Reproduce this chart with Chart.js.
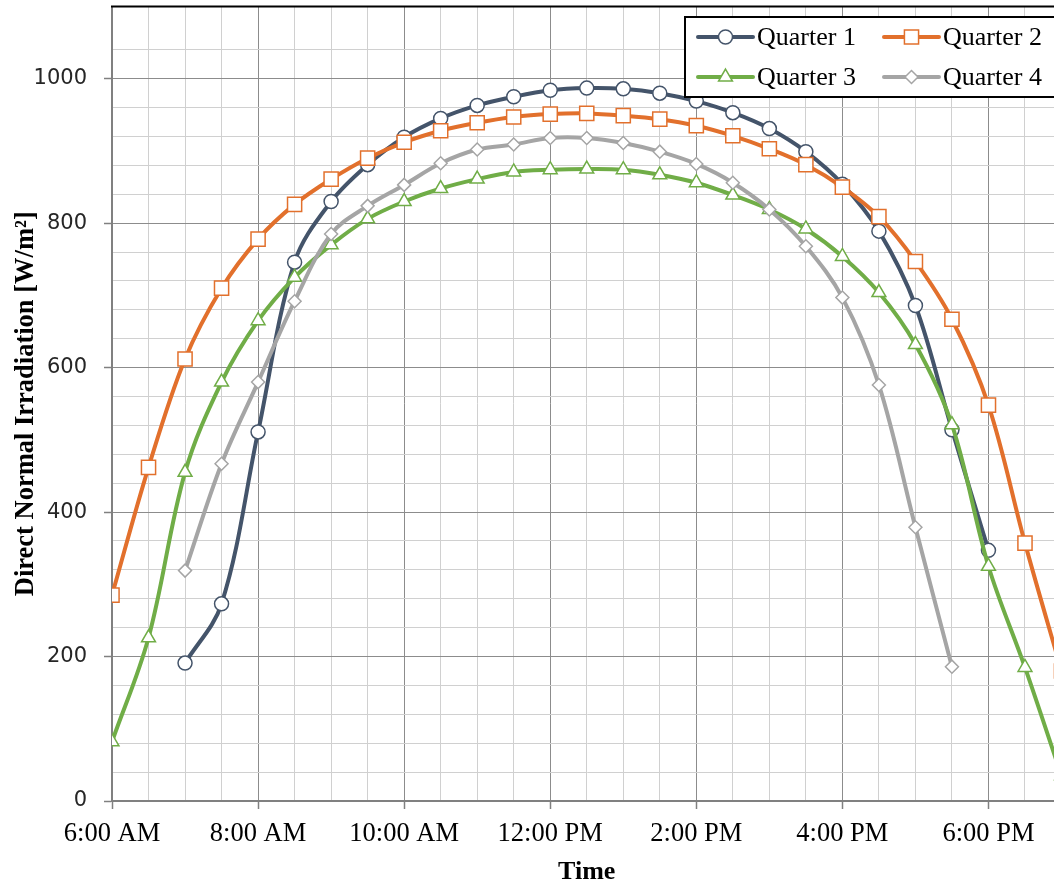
<!DOCTYPE html>
<html>
<head>
<meta charset="utf-8">
<script src="https://cdn.jsdelivr.net/npm/chart.js@4"></script>
<style>
  html, body { margin: 0; padding: 0; background: #fff; overflow: hidden; }
  #wrap { width: 1073px; height: 893px; margin-top: -5px; }
</style>
</head>
<body>
<div id="wrap"><canvas id="chart"></canvas></div>
<script>
// half-hour steps, in hours of the day
const times = [6, 6.5, 7, 7.5, 8, 8.5, 9, 9.5, 10, 10.5, 11, 11.5, 12, 12.5,
               13, 13.5, 14, 14.5, 15, 15.5, 16, 16.5, 17, 17.5, 18, 18.5, 19];

const quarter1 = [null, null, 191, 273, 511, 746, 830, 881, 919, 945, 963, 975, 984, 987,
                  986, 980, 969, 953, 931, 899, 854, 789, 686, 514, 347, null, null];
const quarter2 = [285, 462, 612, 710, 778, 826, 861, 890, 912, 928, 939, 947, 951, 952,
                  949, 944, 935, 921, 903, 881, 850, 809, 747, 667, 548, 357, 180];
const quarter3 = [82, 226, 455, 580, 665, 725, 770, 806, 830, 848, 861, 871, 874, 875,
                  874, 867, 856, 839, 819, 792, 754, 704, 632, 521, 325, 185, 35];
const quarter4 = [null, null, 319, 467, 580, 692, 785, 824, 853, 883, 902, 909, 918, 918,
                  911, 899, 882, 856, 819, 768, 697, 576, 379, 186, null, null, null];

const seriesLabels = ["Quarter 1", "Quarter 2", "Quarter 3", "Quarter 4"];
const seriesColors = ["#44546A", "#E2702C", "#70AD47", "#A5A5A5"];
const markerStyles = ["circle", "rect", "triangle", "rectRot"];
const markerSizes = [7, 10, 8, 6.5];

const yTitle = "Direct Normal Irradiation [W/m\u00B2]";
const xTitle = "Time";

function toPoints(values) {
    return times.map((t, i) => ({ x: t, y: values[i] })).filter(p => p.y !== null);
}

function timeLabel(h) {
    const hour = Math.floor(h);
    const suffix = hour < 12 ? "AM" : "PM";
    let shown = hour % 12;
    if (shown === 0) shown = 12;
    return shown + ":00 " + suffix;
}

const allSeries = [quarter1, quarter2, quarter3, quarter4];

const datasets = allSeries.map((values, i) => ({
    label: seriesLabels[i],
    data: toPoints(values),
    borderColor: seriesColors[i],
    borderWidth: 4,
    tension: 0.35,
    pointStyle: markerStyles[i],
    pointRadius: markerSizes[i],
    pointHoverRadius: markerSizes[i],
    pointBackgroundColor: "#ffffff",
    pointBorderColor: seriesColors[i],
    pointBorderWidth: 1.5,
    order: 4 - i
}));

// top frame line + boxed legend with line samples
// (canvas is shifted up 5px, so page y = canvas y - 5)
const framePlugin = {
    id: "frame",
    afterDraw(chart) {
        const ctx = chart.ctx;
        const area = chart.chartArea;
        ctx.save();
        ctx.strokeStyle = "#000";
        ctx.lineWidth = 2;
        ctx.beginPath();
        ctx.moveTo(area.left - 1, area.top);
        ctx.lineTo(area.right, area.top);
        ctx.stroke();

        const box = { x: 685, y: 22, w: 380, h: 80 };
        ctx.fillStyle = "#fff";
        ctx.fillRect(box.x, box.y, box.w, box.h);
        ctx.lineWidth = 2;
        ctx.strokeRect(box.x, box.y, box.w, box.h);

        ctx.font = "26px 'Liberation Serif', 'Times New Roman', serif";
        ctx.textBaseline = "middle";
        const cols = [698, 884];
        const rows = [42, 82];
        seriesLabels.forEach((label, i) => {
            const x0 = cols[i % 2];
            const y0 = rows[Math.floor(i / 2)];
            ctx.strokeStyle = seriesColors[i];
            ctx.lineWidth = 4;
            ctx.lineCap = "round";
            ctx.beginPath();
            ctx.moveTo(x0, y0);
            ctx.lineTo(x0 + 55, y0);
            ctx.stroke();
            ctx.fillStyle = "#fff";
            ctx.lineWidth = 1.5;
            ctx.lineCap = "butt";
            Chart.helpers.drawPoint(ctx, {
                pointStyle: markerStyles[i],
                radius: markerSizes[i],
                borderWidth: 1.5,
                rotation: 0
            }, x0 + 27.5, y0);
            ctx.fillStyle = "#000";
            ctx.fillText(label, x0 + 59, y0 + 1);
        });
        ctx.restore();
    }
};

const majorGrid = "#8C8C8C";
const minorGrid = "#D0D0D0";

// fixed axis sizes, and no extra room reserved for edge labels
function fitX(scale) {
    scale.height = 87;
    scale.paddingLeft = 0;
    scale.paddingRight = 0;
}
function fitY(scale) {
    scale.width = 112;
    scale.paddingTop = 0;
    scale.paddingBottom = 0;
}

new Chart(document.getElementById("chart"), {
    type: "line",
    data: { datasets: datasets },
    options: {
        responsive: true,
        maintainAspectRatio: false,
        animation: false,
        layout: { padding: { top: 1, right: 0, left: 0, bottom: 0 } },
        plugins: {
            legend: { display: false },
            tooltip: { enabled: false }
        },
        scales: {
            x: {
                type: "linear",
                min: 6,
                max: 19,
                afterFit: fitX,
                ticks: {
                    stepSize: 0.5,
                    autoSkip: false,
                    maxRotation: 0,
                    padding: 9,
                    color: "#000",
                    font: { family: "'Liberation Serif', 'Times New Roman', serif", size: 26.5 },
                    callback: v => (v % 2 === 0 && v < 19) ? timeLabel(v) : ""
                },
                grid: {
                    color: c => (c.tick && c.tick.value % 2 === 0) ? majorGrid : minorGrid,
                    lineWidth: 1,
                    tickLength: 8,
                    tickWidth: 1.5,
                    tickColor: c => (c.tick && c.tick.value % 2 === 0) ? "#808080" : "rgba(0,0,0,0)"
                },
                border: { color: "#808080", width: 2 },
                title: {
                    display: true,
                    text: xTitle,
                    color: "#000",
                    padding: { top: 0, bottom: 0 },
                    font: { family: "'Liberation Serif', 'Times New Roman', serif", size: 26, weight: "bold" }
                }
            },
            y: {
                min: 0,
                max: 1100,
                afterFit: fitY,
                ticks: {
                    stepSize: 40,
                    autoSkip: false,
                    padding: 17,
                    color: "#262626",
                    font: { family: "'DejaVu Sans', sans-serif", size: 21 },
                    callback: v => (v % 200 === 0) ? String(v) : ""
                },
                grid: {
                    color: c => (c.tick && c.tick.value % 200 === 0) ? majorGrid : minorGrid,
                    lineWidth: 1,
                    tickLength: 8,
                    tickWidth: 1.5,
                    tickColor: c => (c.tick && c.tick.value % 200 === 0) ? "#808080" : "rgba(0,0,0,0)"
                },
                border: { color: "#808080", width: 2 },
                title: {
                    display: true,
                    text: yTitle,
                    color: "#000",
                    padding: { top: 10, bottom: 0 },
                    font: { family: "'Liberation Serif', 'Times New Roman', serif", size: 26.5, weight: "bold" }
                }
            }
        }
    },
    plugins: [framePlugin]
});
</script>
</body>
</html>
